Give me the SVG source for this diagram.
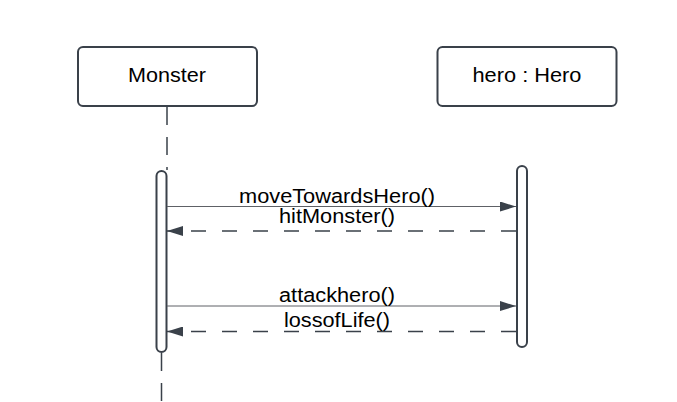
<svg xmlns="http://www.w3.org/2000/svg" width="677" height="402" viewBox="0 0 677 402">
<style>
.box{fill:#fff;stroke:#3a414a;stroke-width:2}
.act{fill:#fff;stroke:#3a414a;stroke-width:2}
.lbl{font-family:"Liberation Sans",Arial,sans-serif;font-size:20px;fill:#000;text-anchor:middle}
.life{stroke:#3a414a;stroke-width:1.5;stroke-dasharray:18 12;fill:none}
.msg{stroke:#5e6166;stroke-width:1;fill:none}
.ret{stroke:#3a414a;stroke-width:1.5;stroke-dasharray:15 16;fill:none}
</style>
<defs>
<marker id="ah" viewBox="0 0 16 10" refX="16" refY="5" markerWidth="16" markerHeight="10" markerUnits="userSpaceOnUse" orient="auto">
<path d="M0,0 L16,5 L0,10 Z" fill="#3a414a"/>
</marker>
</defs>
<rect width="677" height="402" fill="#fff"/>
<g id="lifelines">
<line class="life" x1="167" y1="107" x2="167" y2="170"/>
<line class="life" x1="161.5" y1="353" x2="161.5" y2="402"/>
</g>
<g id="node-monster">
<rect class="box" x="78" y="47" width="179" height="59" rx="5"/>
<text class="lbl" x="167" y="82" textLength="78" lengthAdjust="spacingAndGlyphs">Monster</text>
</g>
<g id="node-hero">
<rect class="box" x="437.5" y="47" width="179" height="59" rx="5"/>
<text class="lbl" x="527" y="82" textLength="109" lengthAdjust="spacingAndGlyphs">hero : Hero</text>
</g>
<g id="activation-monster">
<rect class="act" x="156.5" y="171" width="10" height="181" rx="5"/>
</g>
<g id="activation-hero">
<rect class="act" x="517" y="166" width="10" height="181" rx="5"/>
</g>
<g id="connectors">
<line class="msg" x1="167" y1="206.5" x2="516" y2="206.5" marker-end="url(#ah)"/>
<line class="ret" x1="516" y1="231" x2="167" y2="231" marker-end="url(#ah)"/>
<line class="msg" x1="167" y1="306" x2="516" y2="306" marker-end="url(#ah)"/>
<line class="ret" x1="516" y1="331.5" x2="167" y2="331.5" marker-end="url(#ah)"/>
</g>
<g id="labels">
<text class="lbl" x="337" y="203" textLength="196" lengthAdjust="spacingAndGlyphs">moveTowardsHero()</text>
<text class="lbl" x="337" y="223" textLength="116" lengthAdjust="spacingAndGlyphs">hitMonster()</text>
<text class="lbl" x="337" y="302" textLength="116" lengthAdjust="spacingAndGlyphs">attackhero()</text>
<text class="lbl" x="337" y="327" textLength="106" lengthAdjust="spacingAndGlyphs">lossofLife()</text>
</g>
</svg>
